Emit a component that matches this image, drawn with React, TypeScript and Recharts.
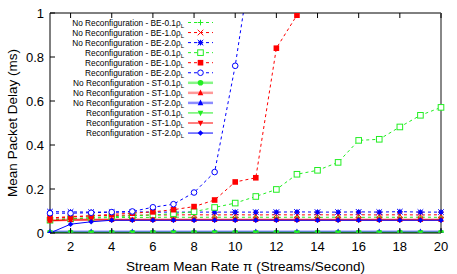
import { LineChart, Line, XAxis, YAxis, Label } from 'recharts'

// stream mean rate (streams/second)
const rates = [1, 2, 3, 4, 5, 6, 7, 8, 9, 10, 11, 12, 13, 14, 15, 16, 17, 18, 19, 20]
const xTicks = [2, 4, 6, 8, 10, 12, 14, 16, 18, 20]
const yTicks = [0, 0.2, 0.4, 0.6, 0.8, 1]

// mean packet delay (ms)
const nrBe01 = [0.060, 0.066, 0.068, 0.070, 0.071, 0.071, 0.072, 0.071, 0.072, 0.071, 0.072, 0.071, 0.072, 0.071, 0.072, 0.071, 0.072, 0.071, 0.072, 0.071]
const nrBe10 = [0.068, 0.075, 0.078, 0.080, 0.081, 0.082, 0.082, 0.083, 0.082, 0.083, 0.082, 0.083, 0.082, 0.083, 0.082, 0.083, 0.082, 0.083, 0.082, 0.083]
const nrBe20 = [0.097, 0.096, 0.095, 0.095, 0.096, 0.095, 0.095, 0.095, 0.095, 0.095, 0.095, 0.095, 0.096, 0.095, 0.095, 0.096, 0.095, 0.097, 0.095, 0.095]
const rBe01 = [0.058, 0.064, 0.070, 0.074, 0.078, 0.082, 0.088, 0.097, 0.116, 0.136, 0.166, 0.198, 0.267, 0.285, 0.321, 0.421, 0.426, 0.482, 0.535, 0.571]
const rBe10 = [0.066, 0.072, 0.078, 0.085, 0.090, 0.096, 0.106, 0.120, 0.150, 0.232, 0.251, 0.840, 0.990, null, null, null, null, null, null, null]
const rBe20 = [0.090, 0.090, 0.092, 0.095, 0.098, 0.117, 0.131, 0.184, 0.277, 0.760, 1.370, null, null, null, null, null, null, null, null, null]
const nrSt01 = [0.002, 0.002, 0.002, 0.002, 0.002, 0.002, 0.002, 0.002, 0.002, 0.002, 0.002, 0.002, 0.002, 0.002, 0.002, 0.002, 0.002, 0.002, 0.002, 0.002]
const nrSt10 = [0.057, 0.060, 0.060, 0.060, 0.060, 0.060, 0.060, 0.060, 0.060, 0.060, 0.060, 0.060, 0.060, 0.060, 0.060, 0.060, 0.060, 0.060, 0.060, 0.060]
const nrSt20 = [0.006, 0.006, 0.006, 0.006, 0.006, 0.006, 0.006, 0.006, 0.006, 0.006, 0.006, 0.006, 0.006, 0.006, 0.006, 0.006, 0.006, 0.006, 0.006, 0.006]
const rSt01 = [0.001, 0.001, 0.001, 0.001, 0.001, 0.001, 0.001, 0.001, 0.001, 0.001, 0.001, 0.001, 0.001, 0.001, 0.001, 0.001, 0.001, 0.001, 0.001, 0.001]
const rSt10 = [0.056, 0.059, 0.060, 0.060, 0.060, 0.060, 0.060, 0.060, 0.060, 0.060, 0.060, 0.060, 0.060, 0.060, 0.060, 0.060, 0.060, 0.060, 0.060, 0.060]
const rSt20 = [0.000, 0.040, 0.051, 0.058, 0.058, 0.058, 0.058, 0.058, 0.058, 0.058, 0.058, 0.058, 0.058, 0.058, 0.058, 0.058, 0.058, 0.058, 0.058, 0.058]

const GREEN = '#22ee22'
const RED = '#ff0000'
const BLUE = '#0000ff'

type Marker = 'plus' | 'cross' | 'star' | 'square' | 'fsquare' | 'circle' | 'fcircle' | 'tri' | 'itri' | 'diamond'

const series: { key: string; label: string; sub: string; values: (number | null)[]; color: string; dash: boolean; marker: Marker; width: number; opacity: number }[] = [
    { key: 'nrBe01', label: 'No Reconfiguration - BE-0.1ρ', sub: 'L', values: nrBe01, color: GREEN, dash: true, marker: 'plus', width: 1, opacity: 1 },
    { key: 'nrBe10', label: 'No Reconfiguration - BE-1.0ρ', sub: 'L', values: nrBe10, color: RED, dash: true, marker: 'cross', width: 1, opacity: 1 },
    { key: 'nrBe20', label: 'No Reconfiguration - BE-2.0ρ', sub: 'L', values: nrBe20, color: BLUE, dash: true, marker: 'star', width: 1, opacity: 1 },
    { key: 'rBe01', label: 'Reconfiguration - BE-0.1ρ', sub: 'L', values: rBe01, color: GREEN, dash: true, marker: 'square', width: 1, opacity: 1 },
    { key: 'rBe10', label: 'Reconfiguration - BE-1.0ρ', sub: 'L', values: rBe10, color: RED, dash: true, marker: 'fsquare', width: 1, opacity: 1 },
    { key: 'rBe20', label: 'Reconfiguration - BE-2.0ρ', sub: 'L', values: rBe20, color: BLUE, dash: true, marker: 'circle', width: 1, opacity: 1 },
    { key: 'nrSt01', label: 'No Reconfiguration - ST-0.1ρ', sub: 'L', values: nrSt01, color: GREEN, dash: false, marker: 'fcircle', width: 2.5, opacity: 0.55 },
    { key: 'nrSt10', label: 'No Reconfiguration - ST-1.0ρ', sub: 'L', values: nrSt10, color: RED, dash: false, marker: 'tri', width: 2.5, opacity: 0.4 },
    { key: 'nrSt20', label: 'No Reconfiguration - ST-2.0ρ', sub: 'L', values: nrSt20, color: BLUE, dash: false, marker: 'tri', width: 2.5, opacity: 0.45 },
    { key: 'rSt01', label: 'Reconfiguration - ST-0.1ρ', sub: 'L', values: rSt01, color: GREEN, dash: false, marker: 'itri', width: 1, opacity: 1 },
    { key: 'rSt10', label: 'Reconfiguration - ST-1.0ρ', sub: 'L', values: rSt10, color: RED, dash: false, marker: 'itri', width: 1, opacity: 1 },
    { key: 'rSt20', label: 'Reconfiguration - ST-2.0ρ', sub: 'L', values: rSt20, color: BLUE, dash: false, marker: 'diamond', width: 1, opacity: 1 },
]

const data = rates.map((r, i) => {
    const row: Record<string, number | null> = { rate: r }
    series.forEach(s => { row[s.key] = s.values[i] })
    return row
})

const FONT = '"Liberation Sans", Arial, sans-serif'

function MarkerShape({ type, cx, cy, color }: { type: Marker; cx: number; cy: number; color: string }) {
    const r = 2.8
    switch (type) {
        case 'plus':
            return <path d={`M${cx - r},${cy}H${cx + r}M${cx},${cy - r}V${cy + r}`} stroke={color} strokeWidth={1} fill="none" />
        case 'cross':
            return <path d={`M${cx - r},${cy - r}L${cx + r},${cy + r}M${cx - r},${cy + r}L${cx + r},${cy - r}`} stroke={color} strokeWidth={1} fill="none" />
        case 'star':
            return (
                <g>
                    <path d={`M${cx - r},${cy}H${cx + r}M${cx},${cy - r}V${cy + r}M${cx - r},${cy - r}L${cx + r},${cy + r}M${cx - r},${cy + r}L${cx + r},${cy - r}`} stroke={color} strokeWidth={1} fill="none" />
                    <rect x={cx - 1.8} y={cy - 1.8} width={3.6} height={3.6} fill={color} />
                </g>
            )
        case 'square':
            return <rect x={cx - r} y={cy - r} width={2 * r} height={2 * r} stroke={color} strokeWidth={1} fill="#fff" />
        case 'fsquare':
            return <rect x={cx - r} y={cy - r} width={2 * r} height={2 * r} fill={color} />
        case 'circle':
            return <circle cx={cx} cy={cy} r={r} stroke={color} strokeWidth={1} fill="#fff" />
        case 'fcircle':
            return <circle cx={cx} cy={cy} r={r} fill={color} />
        case 'tri':
            return <path d={`M${cx},${cy - r - 0.5}L${cx + r},${cy + r - 0.5}L${cx - r},${cy + r - 0.5}Z`} fill={color} />
        case 'itri':
            return <path d={`M${cx},${cy + r + 0.5}L${cx + r},${cy - r + 0.5}L${cx - r},${cy - r + 0.5}Z`} fill={color} />
        case 'diamond':
            return <path d={`M${cx},${cy - r}L${cx + r},${cy}L${cx},${cy + r}L${cx - r},${cy}Z`} fill={color} />
    }
    return null
}

const BottomTick = ({ x, y, payload }: any) => (
    <g>
        <line x1={x} y1={y} x2={x} y2={y - 5} stroke="#000" />
        <text x={x} y={y + 18} textAnchor="middle" fontSize={13} fontFamily={FONT} fill="#000">{payload.value}</text>
    </g>
)
const TopTick = ({ x, y }: any) => <line x1={x} y1={y} x2={x} y2={y + 5} stroke="#000" />
const LeftTick = ({ x, y, payload }: any) => (
    <g>
        <line x1={x} y1={y} x2={x + 5} y2={y} stroke="#000" />
        <text x={x - 6} y={y + 4.5} textAnchor="end" fontSize={13} fontFamily={FONT} fill="#000">{String(payload.value)}</text>
    </g>
)
const RightTick = ({ x, y }: any) => <line x1={x} y1={y} x2={x - 5} y2={y} stroke="#000" />

function ChartLegend() {
    return (
        <svg width={200} height={130} style={{ position: 'absolute', left: 0, top: 0, overflow: 'visible' }}>
            {series.map((s, i) => {
                const y = 22.5 + i * 10.05
                return (
                    <g key={s.key}>
                        <text x={184} y={y + 3} textAnchor="end" fontSize={8.3} fontFamily={FONT} fill="#000">
                            {s.label}<tspan fontSize={6} dy={2}>{s.sub}</tspan>
                        </text>
                        <line x1={188} y1={y} x2={213} y2={y} stroke={s.color} strokeOpacity={s.opacity} strokeWidth={s.width} strokeDasharray={s.dash ? '3 3' : undefined} />
                        <MarkerShape type={s.marker} cx={200.5} cy={y} color={s.color} />
                    </g>
                )
            })}
        </svg>
    )
}

export default function App() {
    return (
        <div style={{ position: 'fixed', left: 0, top: 0, width: 457, height: 274, background: '#fff' }}>
            <LineChart width={457} height={274} data={data} margin={{ top: 12, right: 10, bottom: 0, left: 0 }}>
                <XAxis
                    xAxisId={0}
                    dataKey="rate"
                    type="number"
                    domain={[1, 20]}
                    ticks={xTicks}
                    height={41}
                    tickSize={0}
                    tickMargin={0}
                    tickLine={false}
                    axisLine={{ stroke: '#000' }}
                    tick={<BottomTick />}
                    interval={0}
                >
                    <Label value="Stream Mean Rate π (Streams/Second)" position="insideBottom" offset={3} fontSize={13.5} fontFamily={FONT} fill="#000" />
                </XAxis>
                <XAxis
                    xAxisId="top"
                    orientation="top"
                    dataKey="rate"
                    type="number"
                    domain={[1, 20]}
                    ticks={xTicks}
                    height={1}
                    tickSize={0}
                    tickMargin={0}
                    tickLine={false}
                    axisLine={{ stroke: '#000' }}
                    tick={<TopTick />}
                    interval={0}
                />
                <YAxis
                    yAxisId={0}
                    type="number"
                    domain={[0, 1]}
                    allowDataOverflow
                    ticks={yTicks}
                    width={50}
                    tickSize={0}
                    tickMargin={0}
                    tickLine={false}
                    axisLine={{ stroke: '#000' }}
                    tick={<LeftTick />}
                    interval={0}
                >
                    <Label
                        content={({ viewBox }: any) => {
                            const cy = viewBox.y + viewBox.height / 2
                            return (
                                <text x={17} y={cy} transform={`rotate(-90 17 ${cy})`} textAnchor="middle" fontSize={13.5} fontFamily={FONT} fill="#000">
                                    Mean Packet Delay (ms)
                                </text>
                            )
                        }}
                    />
                </YAxis>
                <YAxis
                    yAxisId="right"
                    orientation="right"
                    type="number"
                    domain={[0, 1]}
                    ticks={yTicks}
                    width={6}
                    tickSize={0}
                    tickMargin={0}
                    tickLine={false}
                    axisLine={{ stroke: '#888', strokeWidth: 2 }}
                    tick={<RightTick />}
                    interval={0}
                />
                {series.map(s => (
                    <Line
                        key={s.key}
                        xAxisId={0}
                        yAxisId={0}
                        dataKey={s.key}
                        type="linear"
                        stroke={s.color}
                        strokeOpacity={s.opacity}
                        strokeWidth={s.width}
                        strokeDasharray={s.dash ? '3 3' : undefined}
                        isAnimationActive={false}
                        connectNulls={false}
                        dot={(p: any) => (p.value == null ? <g key={p.index} /> : <g key={p.index}><MarkerShape type={s.marker} cx={p.cx} cy={p.cy} color={s.color} /></g>)}
                        activeDot={false}
                    />
                ))}
            </LineChart>
            <ChartLegend />
        </div>
    )
}
